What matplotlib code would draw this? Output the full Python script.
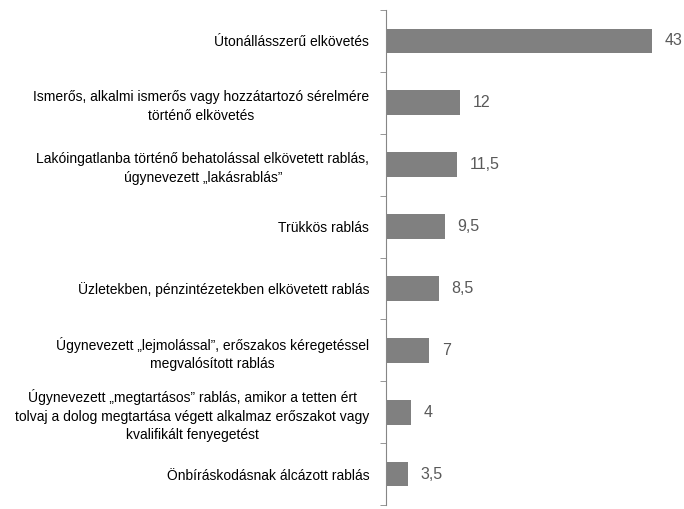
import matplotlib
matplotlib.use('Agg')
from matplotlib import pyplot as plt
import numpy as np

categories = [
    'Útonállásszerű elkövetés',
    'Ismerős, alkalmi ismerős vagy hozzátartozó sérelmére\ntörténő elkövetés',
    'Lakóingatlanba történő behatolással elkövetett rablás,\núgynevezett „lakásrablás”',
    'Trükkös rablás',
    'Üzletekben, pénzintézetekben elkövetett rablás',
    'Úgynevezett „lejmolással”, erőszakos kéregetéssel\nmegvalósított rablás',
    'Úgynevezett „megtartásos” rablás, amikor a tetten ért\ntolvaj a dolog megtartása végett alkalmaz erőszakot vagy\nkvalifikált fenyegetést',
    'Önbíráskodásnak álcázott rablás',
]
values = [43, 12, 11.5, 9.5, 8.5, 7, 4, 3.5]

font = ['Liberation Sans', 'DejaVu Sans']

def fmt(v):
    return ('%g' % v).replace('.', ',')

fig = plt.figure(figsize=(6.84, 5.09), dpi=100)
ax = fig.add_axes([386 / 684, 4 / 509, 298 / 684, 495 / 509])

y = np.arange(len(values))
bars = ax.barh(y, values, height=0.4, color='#808080')
ax.set_ylim(len(values) - 0.5, -0.5)
ax.set_xlim(0, 48.2)

ax.set_yticks(y)
ax.set_yticklabels(categories, family=font, fontsize=10, color='#000000',
                   ha='right', multialignment='center', linespacing=1.4)
ax.tick_params(axis='y', length=0, pad=12)
# boundary ticks
ax.set_yticks(np.arange(len(values) + 1) - 0.5, minor=True)
ax.tick_params(axis='y', which='minor', length=4, color='#868686', direction='out')

for b, v in zip(bars, values):
    ax.text(b.get_width() + 2.1, b.get_y() + b.get_height() / 2, fmt(v),
            va='center', ha='left', family=font, fontsize=11.5, color='#595959')

ax.set_xticks([])
for s in ['top', 'right', 'bottom']:
    ax.spines[s].set_visible(False)
ax.spines['left'].set_color('#868686')

fig.savefig('out.png', dpi=100)
